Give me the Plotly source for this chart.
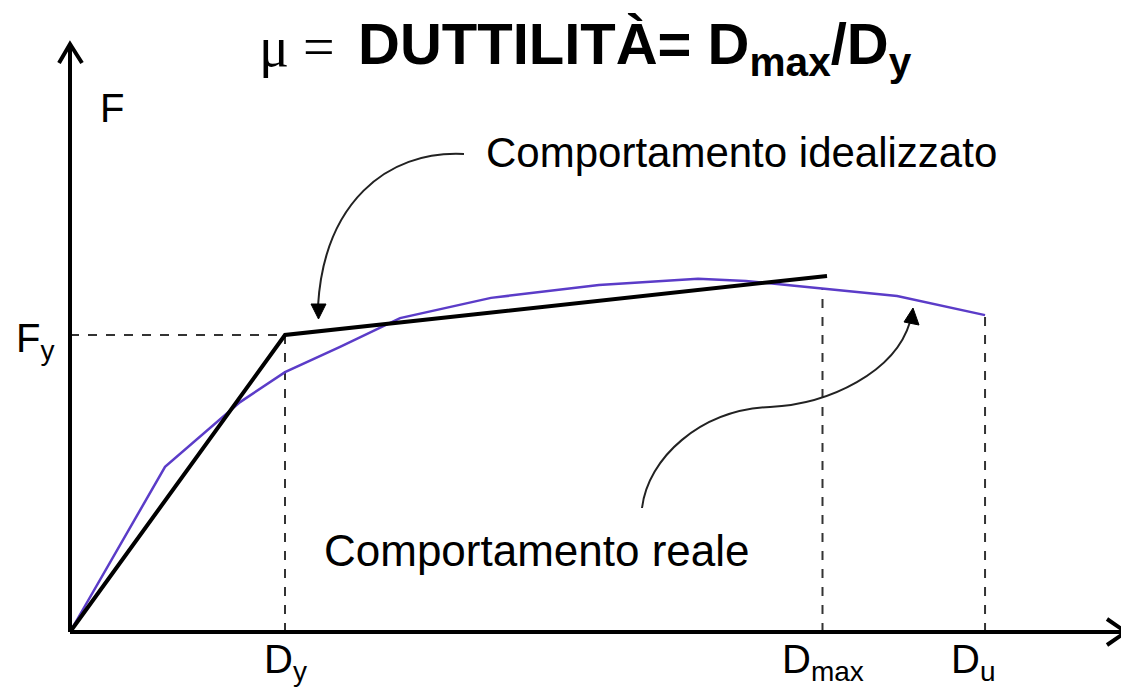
import numpy as np
import plotly.graph_objects as go

# page body has an 8px default margin: draw a 1121x690 figure so it fills the 1129x698 window
PAGE_W, PAGE_H, BODY = 1129, 698, 8
W, H = PAGE_W - BODY, PAGE_H - BODY

# ---- data (displacement in units of D_y, force in units of F_y) ----
real_D = [0, 0.442, 0.791, 1.000, 1.256, 1.535, 1.958, 2.460, 2.921, 3.144, 3.381, 3.847, 4.256]
real_F = [0, 0.556, 0.774, 0.875, 0.960, 1.057, 1.125, 1.168, 1.189, 1.182, 1.165, 1.131, 1.067]

ideal_D = [0, 1.0, 3.521]
ideal_F = [0, 1.0, 1.199]

Dy, Fy = 1.0, 1.0
Dmax = 3.50
Du = 4.256

tick_pos = [Dy, Dmax, Du]
tick_text = ["D<sub>y</sub>", "D<sub>max</sub>", "D<sub>u</sub>"]
tick_shift = [0, 0, -12]

# ---- layout helpers (screen pixel -> axis units, for decorations only) ----
X0, Y0, SX, SY = 70, 632, 215, 297
xr = [(BODY - X0) / SX, (PAGE_W - X0) / SX]
yr = [(Y0 - PAGE_H) / SY, (Y0 - BODY) / SY]


def ax(p):
    return (p - X0) / SX


def ay(p):
    return (Y0 - p) / SY


def P(x, y):
    return f"{ax(x):.5f},{ay(y):.5f}"


FONT = "Liberation Sans, Arial, Helvetica, sans-serif"
SERIF = "Liberation Serif, Times New Roman, serif"
PURPLE = "#5b3cc8"

fig = go.Figure()

# dashed reference lines
Fmax_at = float(np.interp(Dmax, real_D, real_F))
Fu_at = float(np.interp(Du, real_D, real_F))
dash = dict(color="#333333", width=2, dash="dash")
fig.add_trace(go.Scatter(x=[0, Dy], y=[Fy, Fy], mode="lines", line=dash, hoverinfo="skip"))
fig.add_trace(go.Scatter(x=[Dy, Dy], y=[0, Fy], mode="lines", line=dash, hoverinfo="skip"))
fig.add_trace(go.Scatter(x=[Dmax, Dmax], y=[0, Fmax_at], mode="lines", line=dash, hoverinfo="skip"))
fig.add_trace(go.Scatter(x=[Du, Du], y=[0, Fu_at], mode="lines", line=dash, hoverinfo="skip"))

# real behaviour
fig.add_trace(go.Scatter(x=real_D, y=real_F, mode="lines",
                         line=dict(color=PURPLE, width=2.5), hoverinfo="skip"))
# idealized behaviour
fig.add_trace(go.Scatter(x=ideal_D, y=ideal_F, mode="lines",
                         line=dict(color="black", width=4), hoverinfo="skip"))

shapes = []
# axes
shapes.append(dict(type="line", x0=0, y0=0, x1=ax(1125), y1=0, xref="x", yref="y",
                   line=dict(color="black", width=4), layer="above"))
shapes.append(dict(type="line", x0=0, y0=0, x1=0, y1=ay(44), xref="x", yref="y",
                   line=dict(color="black", width=4), layer="above"))

# axis arrow chevrons
shapes.append(dict(type="path", xref="x", yref="y",
                   path=f"M {P(1107,619)} L {P(1126,632)} L {P(1107,645)}",
                   line=dict(color="black", width=4), layer="above"))
shapes.append(dict(type="path", xref="x", yref="y",
                   path=f"M {P(59,63)} L {P(70,44)} L {P(82,63)}",
                   line=dict(color="black", width=4), layer="above"))

# curved arrow to idealized line
shapes.append(dict(type="path", xref="x", yref="y",
                   path=f"M {P(464,154)} C {P(385,150)} {P(324,205)} {P(318,306)}",
                   line=dict(color="#222222", width=2)))
shapes.append(dict(type="path", xref="x", yref="y",
                   path=f"M {P(311,304)} L {P(326,304)} L {P(318.5,319)} Z",
                   fillcolor="black", line=dict(color="black", width=1)))

# S-shaped arrow to real curve
shapes.append(dict(type="path", xref="x", yref="y",
                   path=(f"M {P(642,508)} C {P(648,458)} {P(700,410)} {P(770,407)} "
                         f"C {P(830,404)} {P(895,372)} {P(910,322)}"),
                   line=dict(color="#222222", width=2)))
shapes.append(dict(type="path", xref="x", yref="y",
                   path=f"M {P(904,322)} L {P(919,325)} L {P(913,308)} Z",
                   fillcolor="black", line=dict(color="black", width=1)))

annotations = []
# title: "μ =" in a serif face, then the bold part
annotations.append(dict(
    x=ax(257), y=ay(47), xref="x", yref="y", showarrow=False,
    xanchor="left", yanchor="middle", text="μ =",
    font=dict(family=SERIF, size=56, color="black")))
annotations.append(dict(
    x=ax(356), y=ay(48), xref="x", yref="y", showarrow=False,
    xanchor="left", yanchor="middle",
    text="<b>DUTTILITÀ= D<sub>max</sub>/D<sub>y</sub></b>",
    font=dict(family=FONT, size=58, color="black")))
# axis labels
annotations.append(dict(x=ax(112), y=ay(108), xref="x", yref="y", showarrow=False,
                        xanchor="center", yanchor="middle", text="F",
                        font=dict(family=FONT, size=40, color="black")))
annotations.append(dict(x=ax(14), y=Fy, xref="x", yref="y", showarrow=False,
                        xanchor="left", yanchor="middle", text="F<sub>y</sub>",
                        yshift=-6,
                        font=dict(family=FONT, size=40, color="black")))
for xp, tt, sh in zip(tick_pos, tick_text, tick_shift):
    annotations.append(dict(x=xp, y=ay(662), xref="x", yref="y", showarrow=False,
                            xanchor="center", yanchor="middle", text=tt,
                            xshift=sh,
                            font=dict(family=FONT, size=40, color="black")))
# behaviour labels
annotations.append(dict(x=ax(484), y=ay(152), xref="x", yref="y", showarrow=False,
                        xanchor="left", yanchor="middle", text="Comportamento idealizzato",
                        font=dict(family=FONT, size=42, color="black")))
annotations.append(dict(x=ax(322), y=ay(550), xref="x", yref="y", showarrow=False,
                        xanchor="left", yanchor="middle", text="Comportamento reale",
                        font=dict(family=FONT, size=44, color="black")))

fig.update_layout(
    width=W, height=H, margin=dict(l=0, r=0, t=0, b=0),
    paper_bgcolor="white", plot_bgcolor="white", showlegend=False,
    xaxis=dict(range=xr, visible=False, fixedrange=True),
    yaxis=dict(range=yr, visible=False, fixedrange=True),
    shapes=shapes, annotations=annotations,
)

fig.write_html("out.html")
